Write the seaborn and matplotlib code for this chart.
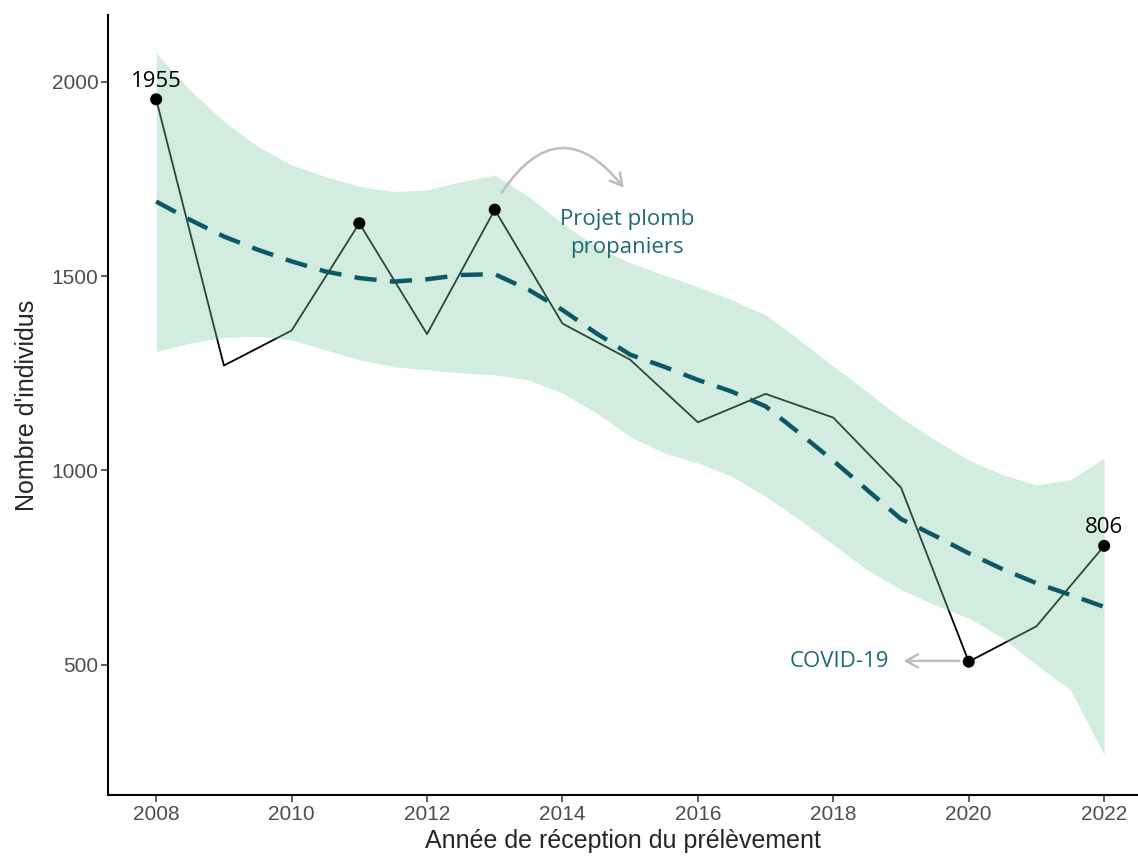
import pandas as pd
import seaborn as sns
import matplotlib.pyplot as plt

years = [2008, 2009, 2010, 2011, 2012, 2013, 2014, 2015, 2016, 2017, 2018, 2019, 2020, 2021, 2022]
counts = [1955, 1270, 1360, 1636, 1351, 1671, 1378, 1285, 1124, 1197, 1136, 956, 508, 599, 806]
highlight_years = [2008, 2011, 2013, 2020, 2022]

# loess trend and its confidence band, every half year
fit_years = [2008, 2008.5, 2009, 2009.5, 2010, 2010.5, 2011, 2011.5, 2012, 2012.5,
             2013, 2013.5, 2014, 2014.5, 2015, 2015.5, 2016, 2016.5, 2017, 2017.5,
             2018, 2018.5, 2019, 2019.5, 2020, 2020.5, 2021, 2021.5, 2022]
trend = [1692, 1645, 1602, 1568, 1538, 1512, 1495, 1486, 1492, 1503,
         1505, 1465, 1413, 1353, 1298, 1267, 1233, 1203, 1165, 1096,
         1025, 950, 875, 832, 787, 746, 710, 680, 649]
band_hi = [2074, 1979, 1898, 1834, 1786, 1756, 1731, 1718, 1722, 1743,
           1760, 1705, 1636, 1576, 1534, 1503, 1473, 1439, 1401, 1336,
           1268, 1203, 1135, 1079, 1027, 989, 963, 976, 1032]
band_lo = [1306, 1328, 1342, 1345, 1336, 1310, 1285, 1267, 1259, 1251,
           1246, 1233, 1199, 1148, 1087, 1045, 1019, 985, 933, 873,
           809, 744, 693, 654, 620, 569, 500, 436, 268]

df = pd.DataFrame({"year": years, "n": counts})
fit = pd.DataFrame({"year": fit_years, "trend": trend, "hi": band_hi, "lo": band_lo})
pts = df[df["year"].isin(highlight_years)]

sns.set_theme(style="ticks")
plt.rcParams["font.family"] = ["Liberation Sans", "DejaVu Sans"]

fig = plt.figure(figsize=(11.38, 8.6), dpi=100)
ax = fig.add_axes([0.095, 0.0756, 0.905, 0.907])

teal = "#0D5866"
note = "#1F6A72"

sns.lineplot(data=df, x="year", y="n", color="black", linewidth=1.3, ax=ax, zorder=1)
# band drawn over the line so the line looks greyish inside it
ax.fill_between(fit["year"], fit["lo"], fit["hi"], color="#7FCBA6", alpha=0.35,
                linewidth=0, zorder=2)
sns.lineplot(data=fit, x="year", y="trend", color=teal, linewidth=3.2, ax=ax,
             zorder=3, linestyle=(0, (5, 3)))
sns.scatterplot(data=pts, x="year", y="n", color="black", s=75, edgecolor="none",
                ax=ax, zorder=4)

ann_font = ["Open Sans", "DejaVu Sans"]
ax.text(2008, 1955 + 20, "1955", ha="center", va="bottom", fontsize=16,
        family=ann_font, color="black")
ax.text(2022, 806 + 20, "806", ha="center", va="bottom", fontsize=16,
        family=ann_font, color="black")

ax.annotate("", xy=(2014.93, 1722), xytext=(2013.08, 1709),
            arrowprops=dict(arrowstyle="->,head_length=0.7,head_width=0.4",
                            color="#BDBDBD", lw=1.8,
                            connectionstyle="arc3,rad=-0.7"))
ax.text(2014.95, 1610, "Projet plomb\npropaniers", ha="center", va="center",
        fontsize=16, family=ann_font, color=note, linespacing=1.45)

ax.annotate("", xy=(2019.0, 510), xytext=(2019.9, 510),
            arrowprops=dict(arrowstyle="->,head_length=0.7,head_width=0.4",
                            color="#BDBDBD", lw=1.8))
ax.text(2018.82, 508, "COVID-19", ha="right", va="center", fontsize=16,
        family=ann_font, color=note)

ax.set_xlim(2007.29, 2022.5)
ax.set_ylim(165, 2172)
ax.set_xticks(range(2008, 2023, 2))
ax.set_yticks([500, 1000, 1500, 2000])
ax.tick_params(axis="both", labelsize=15, labelcolor="#4D4D4D", color="#333333",
               length=5, width=1.1, pad=2)
ax.set_xlabel("Année de réception du prélèvement", fontsize=18, labelpad=4)
ax.set_ylabel("Nombre d'individus", fontsize=18, labelpad=9)
for side in ["left", "bottom"]:
    ax.spines[side].set_linewidth(1.5)
    ax.spines[side].set_color("black")
sns.despine(ax=ax)

fig.savefig("out.png", dpi=100)
